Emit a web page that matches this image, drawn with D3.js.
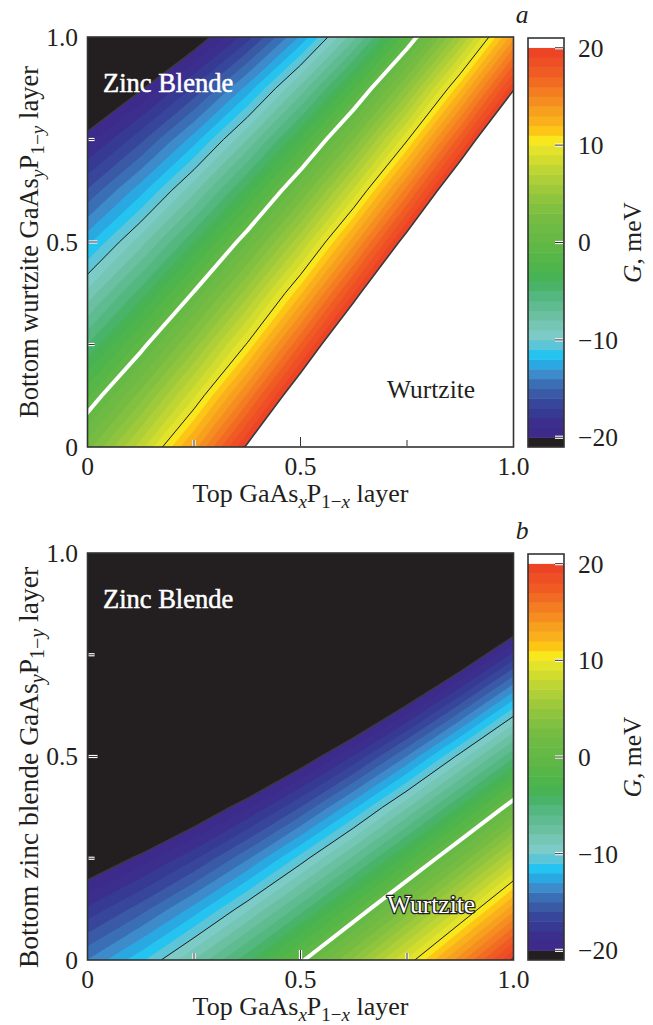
<!DOCTYPE html>
<html><head><meta charset="utf-8">
<script src="https://cdn.jsdelivr.net/npm/d3@7"></script>
<style>
body{margin:0;background:#fff;}
svg{display:block;font-family:"Liberation Serif","Times New Roman",serif;}
</style></head><body>
<svg id="chart" width="653" height="1025"></svg>
<script>
// ---- data ----
const xGrid = [0, 0.125, 0.25, 0.375, 0.5, 0.625, 0.75, 0.875, 1];   // top layer x
const yGrid = [0, 0.125, 0.25, 0.375, 0.5, 0.625, 0.75, 0.875, 1];   // bottom layer y
// G (meV): rows = yGrid (y = 0 first), columns = xGrid
const gWurtziteBottom = [
  [  2.58,   7.56,  13.53,  20.33,  27.60,  35.38, 43.75, 52.72, 62.44],
  [ -1.25,   3.47,   8.78,  15.24,  22.34,  29.93, 38.10, 46.86, 56.34],
  [ -4.96,  -0.60,   4.46,  10.15,  17.07,  24.49, 32.45, 40.99, 50.24],
  [ -8.66,  -4.53,   0.15,   5.57,  11.81,  19.04, 26.79, 35.13, 44.15],
  [-12.29,  -8.46,  -4.05,   1.00,   6.82,  13.59, 21.14, 29.27, 38.05],
  [-15.86, -12.38,  -8.24,  -3.50,   1.96,   8.23, 15.49, 23.40, 31.95],
  [-19.43, -16.29, -12.50,  -7.98,  -2.87,   3.05,  9.84, 17.54, 25.85],
  [-23.00, -20.19, -16.81, -12.64,  -7.69,  -2.14,  4.30, 11.68, 19.76],
  [-26.57, -24.10, -21.12, -17.45, -12.83,  -7.34, -1.28,  5.73, 13.66]
];
// G (meV)
const gZincBlendeBottom = [
  [-13.96, -11.27,  -7.96,  -4.29,  -0.33,   4.32,   9.20,  14.61,  20.27],
  [-17.79, -15.46, -12.62,  -9.23,  -5.46,  -1.40,   3.23,   8.20,  13.62],
  [-21.63, -19.65, -17.19, -14.18, -10.62,  -6.73,  -2.55,   2.09,   7.15],
  [-25.46, -23.84, -21.75, -19.13, -15.95, -12.20,  -8.10,  -3.80,   0.90],
  [-29.29, -28.03, -26.32, -24.08, -21.28, -17.89, -13.95,  -9.59,  -5.17],
  [-33.13, -32.22, -30.89, -29.03, -26.61, -23.58, -19.95, -15.81, -11.28],
  [-36.96, -36.41, -35.45, -33.98, -31.94, -29.26, -25.96, -22.06, -17.69],
  [-40.80, -40.60, -40.02, -38.93, -37.27, -34.95, -31.96, -28.31, -24.10],
  [-44.63, -44.79, -44.59, -43.89, -42.60, -40.64, -37.96, -34.56, -30.51]
];
const levels = d3.range(-20, 21, 1);            // contour levels, meV
const colorTicks = [-20, -10, 0, 10, 20];
const colorTickLabels = ["\u221220", "\u221210", "0", "10", "20"];
const axisTicks = [0, 0.5, 1];
const axisTickLabels = ["0", "0.5", "1.0"];
const minorTicks = [0.25, 0.75];
// band colours, from [-20,-19] up to [19,20]
const bandColors = [
  "#3d2b8b","#3b2e8d","#373a93","#37459a","#3a5aa6","#3a6fb5","#3d8bcb","#2aa8e1","#25c3f0","#5cc5d8",
  "#7ccbc6","#75c6b4","#6bc0a2","#5fbb90","#55b780","#4ab36a","#47b354","#4db54b","#56b647","#5fb846",
  "#67b945","#6dba44","#76bc42","#81c040","#8fc43e","#9dc93b","#aecf38","#bfd534","#d2dc2f","#e3e32b",
  "#f8e71c","#fdc616","#f9b01c","#f7a01e","#f58d20","#f47c21","#f26b23","#f05b24","#ef4f25","#ee4426"
];

// ---- drawing ----
const svg = d3.select("#chart");
const L = 87.5, R = 513.5, CBX = 528, CBW = 36;
const FS = 25.5, SFS = 19;

function richText(sel, parts, subSize) {
  let inSub = false;
  parts.forEach(p => {
    const ts = sel.append("tspan").text(p.t);
    if (p.it) ts.attr("font-style", "italic");
    if (p.sub) { ts.attr("font-size", subSize); if (!inSub) ts.attr("dy", 6); inSub = true; }
    else { if (inSub) ts.attr("dy", -6); inSub = false; }
  });
}

function tickMark(g, x1, y1, x2, y2) {
  g.append("line").attr("x1", x1).attr("y1", y1).attr("x2", x2).attr("y2", y2)
    .attr("stroke", "#fff").attr("stroke-width", 3.2);
  g.append("line").attr("x1", x1).attr("y1", y1).attr("x2", x2).attr("y2", y2)
    .attr("stroke", "#333").attr("stroke-width", 1);
}

function drawPanel(cfg) {
  const { top, bottom, grid, id, yTitle, letter, wLabel } = cfg;
  const x = d3.scaleLinear().domain([0, 1]).range([L, R]);
  const y = d3.scaleLinear().domain([0, 1]).range([bottom, top]);
  const nx = xGrid.length, ny = yGrid.length;
  const gx = d3.scaleLinear().domain([0.5, nx - 0.5]).range([xGrid[0], xGrid[nx - 1]]);
  const gy = d3.scaleLinear().domain([0.5, ny - 0.5]).range([yGrid[0], yGrid[ny - 1]]);
  const proj = d3.geoTransform({ point(px, py) { this.stream.point(x(gx(px)), y(gy(py))); } });
  const path = d3.geoPath(proj);
  const contours = d3.contours().size([nx, ny]).thresholds(levels)(grid.flat());

  svg.append("clipPath").attr("id", id).append("rect")
    .attr("x", L).attr("y", top).attr("width", R - L).attr("height", bottom - top);
  const g = svg.append("g").attr("clip-path", `url(#${id})`);
  g.append("rect").attr("x", L).attr("y", top).attr("width", R - L).attr("height", bottom - top)
    .attr("fill", "#231f20");
  g.selectAll("path.band").data(contours).join("path").attr("class", "band")
    .attr("d", path)
    .attr("fill", d => d.value >= 20 ? "#ffffff" : bandColors[d.value + 20]);

  const lineStyles = [
    { v: -20, stroke: "#3a3a3a", w: 1.4 },
    { v: -10, stroke: "#1a1a1a", w: 1 },
    { v: 0, stroke: "#ffffff", w: 4 },
    { v: 10, stroke: "#1a1a1a", w: 1 },
    { v: 20, stroke: "#3a3a3a", w: 1.6 }
  ];
  g.selectAll("path.iso").data(lineStyles).join("path").attr("class", "iso")
    .attr("d", d => path(contours.find(c => c.value === d.v)))
    .attr("fill", "none").attr("stroke", d => d.stroke).attr("stroke-width", d => d.w)
    .attr("stroke-linejoin", "round");

  // ticks inside
  const tk = svg.append("g");
  [0.5].concat(minorTicks).forEach(t => {
    const len = t === 0.5 ? 9 : 6;
    tickMark(tk, L + 1, y(t), L + 1 + len, y(t));
    tickMark(tk, x(t), bottom - 1, x(t), bottom - 1 - len);
  });

  // frame
  svg.append("rect").attr("x", L).attr("y", top).attr("width", R - L).attr("height", bottom - top)
    .attr("fill", "none").attr("stroke", "#333").attr("stroke-width", 1.6);

  // tick labels
  axisTicks.forEach((t, i) => {
    svg.append("text").attr("x", 78).attr("y", y(t)).attr("dy", "0.35em")
      .attr("text-anchor", "end").attr("font-size", FS).attr("fill", "#231f20").text(axisTickLabels[i]);
    svg.append("text").attr("x", x(t)).attr("y", bottom + 28)
      .attr("text-anchor", "middle").attr("font-size", FS).attr("fill", "#231f20").text(axisTickLabels[i]);
  });

  // axis titles
  const xt = svg.append("text").attr("x", (L + R) / 2).attr("y", bottom + 55)
    .attr("text-anchor", "middle").attr("font-size", 26).attr("fill", "#231f20");
  richText(xt, [{ t: "Top GaAs" }, { t: "x", sub: true, it: true }, { t: "P" },
    { t: "1\u2212", sub: true }, { t: "x", sub: true, it: true }, { t: " layer" }], SFS);
  const yt = svg.append("text")
    .attr("transform", `translate(38,${(top + bottom) / 2 + cfg.yShift}) rotate(-90)`)
    .attr("text-anchor", "middle").attr("font-size", cfg.yFs).attr("fill", "#231f20");
  richText(yt, [{ t: yTitle }, { t: "y", sub: true, it: true }, { t: "P" },
    { t: "1\u2212", sub: true }, { t: "y", sub: true, it: true }, { t: " layer" }], cfg.yFs * 0.73);

  // region labels
  svg.append("text").attr("x", 103).attr("y", top + 55).attr("font-size", 26.5)
    .attr("fill", "#fff").attr("stroke", "#fff").attr("stroke-width", 0.5).text("Zinc Blende");
  svg.append("text").attr("x", 387).attr("y", wLabel.y).attr("font-size", FS)
    .attr("fill", wLabel.fill).attr("stroke", wLabel.stroke).attr("stroke-width", 2.5)
    .attr("paint-order", "stroke").text("Wurtzite");

  // panel letter
  svg.append("text").attr("x", 522).attr("y", top - 14).attr("text-anchor", "middle")
    .attr("font-size", FS).attr("font-style", "italic").attr("fill", "#231f20").text(letter);

  // colour bar
  const c = d3.scaleLinear().domain([-21, 21]).range([bottom, top + 1]);
  const cb = svg.append("g");
  cb.append("rect").attr("x", CBX).attr("width", CBW).attr("y", c(-20)).attr("height", c(-21) - c(-20))
    .attr("fill", "#231f20");
  cb.selectAll("rect.cb").data(levels.slice(0, -1)).join("rect").attr("class", "cb")
    .attr("x", CBX).attr("width", CBW)
    .attr("y", d => c(d + 1)).attr("height", d => c(d) - c(d + 1) + 0.5)
    .attr("fill", (d, i) => bandColors[i]);
  cb.append("rect").attr("x", CBX).attr("width", CBW).attr("y", c(21)).attr("height", c(20) - c(21))
    .attr("fill", "#fff");
  colorTicks.forEach((t, i) => {
    tickMark(cb, CBX + CBW - 9, c(t), CBX + CBW - 1, c(t));
    cb.append("text").attr("x", 578).attr("y", c(t)).attr("dy", "0.35em")
      .attr("font-size", FS).attr("fill", "#231f20").text(colorTickLabels[i]);
  });
  cb.append("rect").attr("x", CBX).attr("width", CBW).attr("y", c(21)).attr("height", c(-21) - c(21))
    .attr("fill", "none").attr("stroke", "#333").attr("stroke-width", 1.6);
  const gl = cb.append("text").attr("transform", `translate(641,${c(0)}) rotate(-90)`)
    .attr("text-anchor", "middle").attr("font-size", FS).attr("fill", "#231f20");
  gl.append("tspan").attr("font-style", "italic").text("G");
  gl.append("tspan").text(", meV");
}

drawPanel({ top: 37, bottom: 447, grid: gWurtziteBottom, id: "clipA",
  yTitle: "Bottom wurtzite GaAs", letter: "a", yShift: 0, yFs: 26.5,
  wLabel: { y: 398, fill: "#231f20", stroke: "none" } });
drawPanel({ top: 553, bottom: 960, grid: gZincBlendeBottom, id: "clipB",
  yTitle: "Bottom zinc blende GaAs", letter: "b", yShift: 11, yFs: 27.5,
  wLabel: { y: 913, fill: "#fff", stroke: "#231f20" } });
</script>
</body></html>
